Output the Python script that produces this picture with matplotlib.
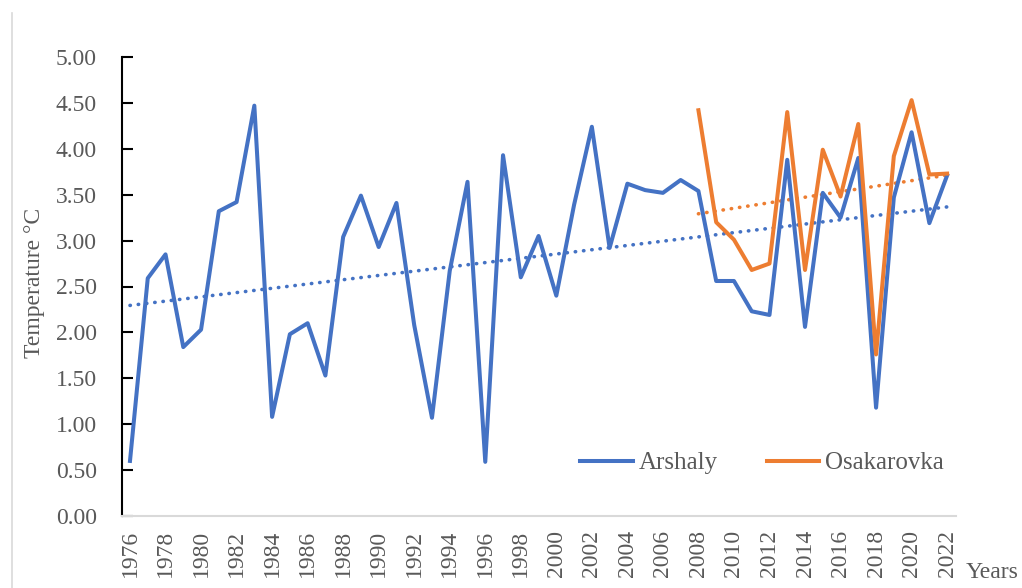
import numpy as np
import matplotlib
matplotlib.use("Agg")
import matplotlib.pyplot as plt
from matplotlib.lines import Line2D

BLUE = "#4472C4"
ORANGE = "#ED7D31"
GREY = "#595959"

years = list(range(1976, 2023))
arshaly = [0.60, 2.59, 2.85, 1.84, 2.03, 3.32, 3.42, 4.47, 1.08, 1.98,
           2.10, 1.53, 3.04, 3.49, 2.93, 3.41, 2.08, 1.07, 2.67, 3.64,
           0.59, 3.93, 2.60, 3.05, 2.40, 3.39, 4.24, 2.92, 3.62, 3.55,
           3.52, 3.66, 3.54, 2.56, 2.56, 2.23, 2.19, 3.88, 2.06, 3.52,
           3.25, 3.90, 1.18, 3.47, 4.18, 3.19, 3.71]
osak_years = list(range(2008, 2023))
osakarovka = [4.42, 3.20, 3.01, 2.68, 2.75, 4.40, 2.68, 3.99, 3.48, 4.27,
              1.76, 3.92, 4.53, 3.72, 3.73]

plt.rcParams["font.family"] = ["Liberation Serif", "DejaVu Serif"]

fig = plt.figure(figsize=(10.22, 5.88), dpi=100)
ax = fig.add_axes([122 / 1022, 72 / 588, 834 / 1022, 459 / 588])

ax.plot(years, arshaly, color=BLUE, lw=2.9, label="Arshaly", zorder=3)
ax.plot(osak_years, osakarovka, color=ORANGE, lw=2.9, label="Osakarovka", zorder=3)

# linear trend lines
dots = (0, (0.1, 2.2))
for xs, ys, c in [(years, arshaly, BLUE), (osak_years, osakarovka, ORANGE)]:
    k, b = np.polyfit(xs, ys, 1)
    xs = np.array(xs)
    ax.plot(xs, k * xs + b, color=c, lw=2.6, linestyle=dots,
            dash_capstyle="round", zorder=2)

ax.set_xlim(1975.55, 2022.5)
ax.set_ylim(0, 5)
ax.set_yticks(np.arange(0, 5.01, 0.5))
ax.set_yticklabels([f"{v:.2f}" for v in np.arange(0, 5.01, 0.5)])
ax.set_xticks(years[::2])
ax.set_xticklabels([str(y) for y in years[::2]], rotation=90)

ax.tick_params(axis="y", direction="in", length=8, width=1.5, color="black",
               labelsize=17, labelcolor=GREY, pad=18)
ax.tick_params(axis="x", length=0, labelsize=17, labelcolor=GREY, pad=10)

for s in ["top", "right"]:
    ax.spines[s].set_visible(False)
ax.spines["left"].set_color("black")
ax.spines["left"].set_linewidth(1.5)
ax.spines["bottom"].set_color("#D9D9D9")
ax.spines["bottom"].set_linewidth(1.5)

fig.text(35 / 1022, 1 - 283 / 588, "Temperature \u00b0C", rotation=90,
         ha="center", va="center", fontsize=17, color=GREY)
fig.text(966 / 1022, 1 - 572 / 588, "Years", ha="left", va="center",
         fontsize=17, color=GREY)

fig.legend(loc="center left", bbox_to_anchor=(570 / 1022, 1 - 463 / 588),
           ncol=2, frameon=False, fontsize=18, labelcolor=GREY,
           handlelength=2.1, columnspacing=1.95, handletextpad=0.25,
           borderaxespad=0)

fig.add_artist(Line2D([12 / 1022, 12 / 1022], [0, 1 - 13 / 588],
                      color="#D9D9D9", lw=1.2))

fig.savefig("out.png", dpi=100)
